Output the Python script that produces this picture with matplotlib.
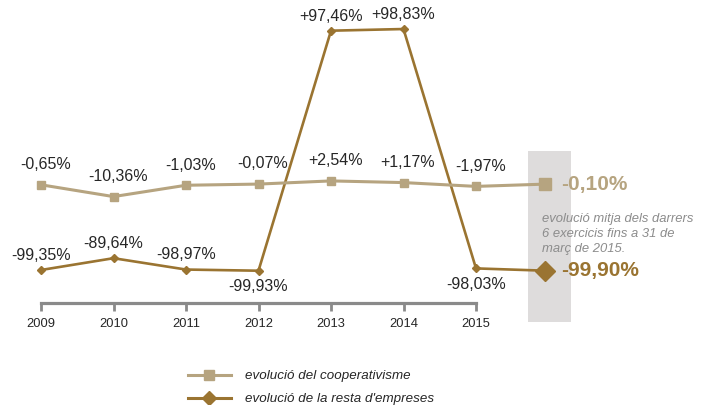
import matplotlib
matplotlib.use("Agg")
import matplotlib.pyplot as plt
from matplotlib.lines import Line2D

plt.rcParams['font.family'] = ['Liberation Sans', 'DejaVu Sans']

years = ['2009', '2010', '2011', '2012', '2013', '2014', '2015']
coop = [-0.65, -10.36, -1.03, -0.07, 2.54, 1.17, -1.97]
resta = [-99.35, -89.64, -98.97, -99.93, 97.46, 98.83, -98.03]
coop_avg = -0.10
resta_avg = -99.90
legend_labels = ["evolució del cooperativisme", "evolució de la resta d'empreses"]
note = "evolució mitja dels darrers\n6 exercicis fins a 31 de\nmarç de 2015."

resta_label_side = ['above', 'above', 'above', 'below', 'above', 'above', 'below']

C_COOP = '#b6a480'
C_RESTA = '#9a7431'
C_TXT = '#262626'
C_AXIS = '#8a8a8a'

W, H = 707, 405
fig = plt.figure(figsize=(W / 100, H / 100), dpi=100)

axis_px = 303
ax = fig.add_axes([0, 1 - axis_px / H, 1, axis_px / H])
ax2 = ax.twinx()

step = 72.5
x0px = 41
ax.set_xlim(-x0px / step, (W - x0px) / step)
k = 1.216
off_resta = 149.2
off_coop = 184.0
ax.set_ylim((off_resta - axis_px) / k, off_resta / k)
ax2.set_ylim((off_coop - axis_px) / k, off_coop / k)

for a in (ax, ax2):
    a.patch.set_visible(False)
    for s in a.spines.values():
        s.set_visible(False)
    a.set_yticks([])

xs = list(range(len(years)))
x_avg = len(years) - 1 + 0.95

# grey summary band
ax.axvspan((528 - x0px) / step, (571 - x0px) / step,
           ymin=1 - 322 / axis_px, ymax=1 - 151 / axis_px,
           color='#dedcdc', lw=0, clip_on=False, zorder=0)

# x axis
ax.spines['bottom'].set_visible(True)
ax.spines['bottom'].set_bounds(xs[0], xs[-1])
ax.spines['bottom'].set_color(C_AXIS)
ax.spines['bottom'].set_linewidth(2.3)
ax.set_xticks(xs)
ax.set_xticklabels(years, fontsize=9.3, color=C_TXT)
ax.tick_params(axis='x', direction='out', length=6, width=2, color=C_AXIS, pad=5)

# series lines
ax2.plot(xs, coop, color=C_COOP, lw=2.2, marker='s', ms=6, zorder=3)
ax2.plot([xs[-1], x_avg], [coop[-1], coop_avg], color=C_COOP, lw=2.2, zorder=3)
ax2.plot([x_avg], [coop_avg], color=C_COOP, marker='s', ms=9, lw=0, zorder=4)

ax.plot(xs, resta, color=C_RESTA, lw=1.9, marker='D', ms=4, zorder=3)
ax.plot([xs[-1], x_avg], [resta[-1], resta_avg], color=C_RESTA, lw=1.9, zorder=3)
ax.plot([x_avg], [resta_avg], color=C_RESTA, marker='D', ms=10, lw=0, zorder=4)


def fmt(v):
    s = f"{v:+.2f}".replace('.', ',') + '%'
    return s


for x, v in zip(xs, coop):
    ax2.annotate(fmt(v), (x, v), xytext=(3, 14.5), textcoords='offset points',
                 ha='center', va='center', fontsize=11.5, color=C_TXT)

for x, v, side in zip(xs, resta, resta_label_side):
    dy = 10.5 if side == 'above' else -11.5
    ax.annotate(fmt(v), (x, v), xytext=(0, dy), textcoords='offset points',
                ha='center', va='center', fontsize=11.5, color=C_TXT)

ax2.annotate(fmt(coop_avg), (x_avg, coop_avg), xytext=(12, 0), textcoords='offset points',
             ha='left', va='center', fontsize=15, fontweight='bold', color=C_COOP)
ax.annotate(fmt(resta_avg), (x_avg, resta_avg), xytext=(12, 0), textcoords='offset points',
            ha='left', va='center', fontsize=15, fontweight='bold', color=C_RESTA)

fig.text(542 / W, 1 - 213 / H, note, ha='left', va='top', fontsize=9.4,
         style='italic', color='#8c8c8c', linespacing=1.35)

handles = [
    Line2D([], [], color=C_COOP, lw=2.2, marker='s', ms=7),
    Line2D([], [], color=C_RESTA, lw=2.2, marker='D', ms=7),
]
leg = fig.legend(handles, legend_labels, loc='upper left',
                 bbox_to_anchor=(188 / W, 1 - 370 / H), frameon=False,
                 prop={'size': 9.6, 'style': 'italic'}, handlelength=3.2,
                 handletextpad=1.1, labelspacing=0.8, borderpad=0, borderaxespad=0)
for t in leg.get_texts():
    t.set_color(C_TXT)

fig.savefig('out.png', dpi=100)
